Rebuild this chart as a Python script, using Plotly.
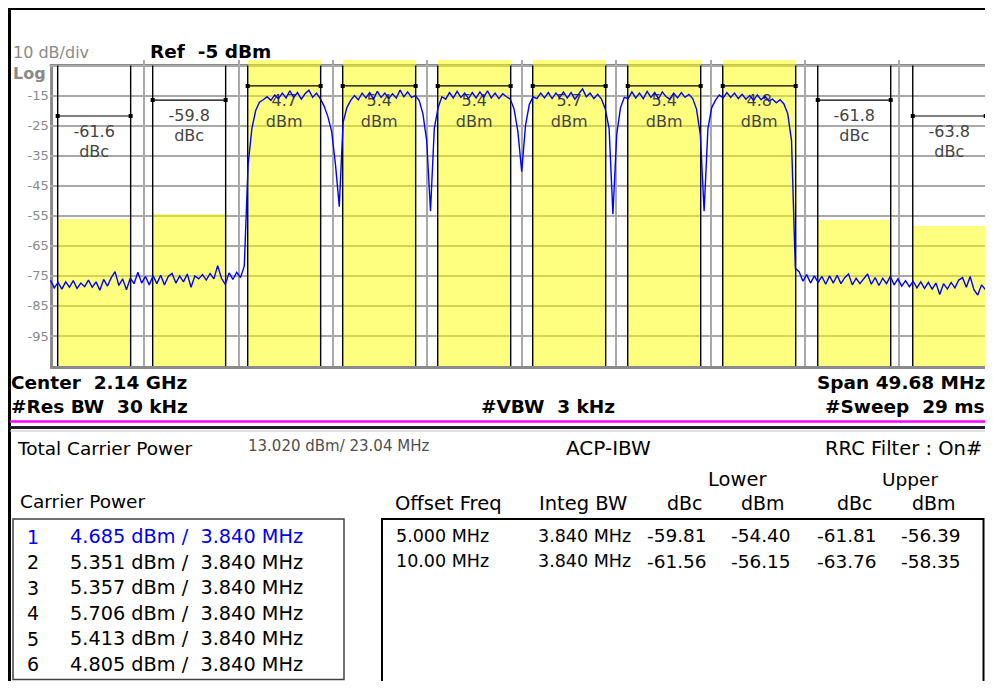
import numpy as np
import plotly.graph_objects as go

# the page has an 8 px body margin, so the figure is laid out in page pixels
OFF = 8
PW, PH = 993, 689
FW, FH = PW - 2 * OFF, PH - 2 * OFF
FONT = "DejaVu Sans, Verdana, sans-serif"
NB = "\u00a0"

# ---- measurement setup ----
center_ghz = 2.14
span_mhz = 49.68
ref_dbm = -5
integ_bw = 3.84

carrier_centers = [-12.5, -7.5, -2.5, 2.5, 7.5, 12.5]
carrier_power = [4.685, 5.351, 5.357, 5.706, 5.413, 4.805]
total_power_dbm = 13.020
total_bw = 23.04

offset_freqs = [5.0, 10.0]
lower_dbc = [-59.81, -61.56]
lower_dbm = [-54.40, -56.15]
upper_dbc = [-61.81, -63.76]
upper_dbm = [-56.39, -58.35]

# height of the measurement bar (dBm) drawn above each channel
carrier_label_level = -11.8
offset_label_level = [-16.5, -21.8]

# ---- sweep trace, 0.2 MHz per point from -24.8 MHz ----
trace_start = -24.8
trace_step = 0.2
trace_dbm = [
    -76.5, -79.0, -77.2, -79.4, -77.0, -78.8, -76.6, -79.2, -77.4, -78.6,
    -76.4, -78.8, -77.0, -79.8, -76.2, -78.4, -75.6, -73.6, -78.2, -76.0,
    -79.6, -75.8, -77.6, -73.8, -77.4, -75.2, -78.0, -75.0, -77.6, -74.8,
    -78.0, -75.2, -74.2, -77.4, -75.0, -77.0, -74.4, -78.8, -75.0, -76.0,
    -74.6, -76.4, -74.2, -76.0, -71.6, -75.8, -77.8, -74.0, -76.2, -73.8,
    -75.6, -71.8, -38.0, -26.0, -20.0, -17.2, -16.4, -15.4, -16.6, -14.8,
    -16.0, -14.2, -15.8, -13.4, -15.6, -14.0, -16.2, -14.4, -13.2, -15.6,
    -14.2, -16.0, -18.5, -22.0, -27.0, -38.0, -52.0, -24.0, -19.0, -16.6,
    -15.0, -16.4, -14.2, -15.8, -14.0, -16.2, -13.6, -15.6, -14.2, -16.0,
    -14.4, -15.8, -13.2, -15.4, -13.8, -15.6, -15.0, -16.6, -21.0, -30.0,
    -53.5, -26.0, -19.0, -15.4, -16.2, -14.0, -15.8, -13.6, -15.6, -14.2,
    -16.0, -14.0, -15.8, -13.8, -15.6, -13.4, -15.8, -14.2, -16.0, -14.4,
    -15.4, -16.2, -19.5, -27.0, -40.3, -25.0, -18.0, -15.4, -16.0, -14.2,
    -15.8, -14.0, -16.0, -14.2, -15.6, -13.8, -15.8, -14.0, -16.2, -14.4,
    -12.8, -15.4, -14.2, -16.0, -14.6, -16.2, -19.5, -26.0, -54.5, -28.0,
    -19.0, -15.6, -16.0, -13.8, -15.8, -14.2, -16.0, -13.6, -15.6, -14.0,
    -16.0, -13.8, -15.4, -16.2, -14.2, -15.8, -14.0, -15.6, -14.6, -16.0,
    -19.5, -28.0, -53.5, -26.0, -19.0, -16.5, -14.8, -15.8, -14.0, -15.6,
    -14.2, -16.0, -14.6, -16.2, -15.0, -16.6, -14.8, -16.4, -15.2, -16.8,
    -16.2, -17.4, -16.4, -17.8, -21.0, -30.0, -72.5, -73.6, -76.8, -74.6,
    -77.4, -75.0, -77.2, -75.2, -77.8, -75.0, -77.4, -74.8, -77.6, -75.6,
    -74.4, -78.0, -75.8, -77.6, -75.8, -74.4, -77.8, -75.6, -78.2, -75.8,
    -77.6, -75.2, -78.0, -76.0, -78.4, -76.6, -78.6, -76.8, -79.0, -77.0,
    -79.2, -77.2, -79.4, -77.4, -81.2, -77.6, -79.4, -77.2, -79.0, -76.4,
    -75.6, -78.8, -75.2, -79.6, -81.4, -78.0, -79.6, -77.2, -78.8,
]
trace_freq = np.round(trace_start + trace_step * np.arange(len(trace_dbm)), 2)

# channels: offsets below/above the outer carriers
lower_centers = [carrier_centers[0] - o for o in offset_freqs]
upper_centers = [carrier_centers[-1] + o for o in offset_freqs]
chan_centers = carrier_centers + lower_centers + upper_centers
chan_tops = carrier_power + lower_dbm + upper_dbm

bottom_db = ref_dbm - 100
half_span = span_mhz / 2
px_per_mhz = 94.4 / (span_mhz / 10)
x_left_px = 49.7          # page x of the left edge of the trace area
y_top_px, y_bot_px = 60.0, 366.0
db_per_px = 100 / (366.0 - 65.5)


def px_x(x):
    return (x - OFF) / FW


def px_y(y):
    return 1 - (y - OFF) / FH


fig = go.Figure()

# yellow integration bands
fig.add_trace(go.Bar(
    x=chan_centers, y=[t - bottom_db for t in chan_tops], base=bottom_db,
    width=integ_bw, marker=dict(color="rgba(255,255,0,0.5)", line_width=0),
    hoverinfo="skip", showlegend=False))

# channel edges
ex, ey = [], []
for c in chan_centers:
    for e in (c - integ_bw / 2, c + integ_bw / 2):
        ex += [e, e, None]
        ey += [bottom_db, ref_dbm, None]
fig.add_trace(go.Scatter(x=ex, y=ey, mode="lines", line=dict(color="black", width=1.4),
                         hoverinfo="skip", showlegend=False))

# measurement bars with values
lab_centers = carrier_centers + lower_centers + upper_centers
lab_levels = [carrier_label_level] * 6 + offset_label_level + offset_label_level
lab_values = [f"{p:.1f}" for p in carrier_power] + [f"{v:.1f}" for v in lower_dbc + upper_dbc]
lab_units = ["dBm"] * 6 + ["dBc"] * 4
mx, my = [], []
for c, lv in zip(lab_centers, lab_levels):
    mx += [c - integ_bw / 2, c + integ_bw / 2, None]
    my += [lv, lv, None]
fig.add_trace(go.Scatter(x=mx, y=my, mode="lines+markers",
                         line=dict(color="black", width=1.2),
                         marker=dict(color="black", size=4, symbol="square"),
                         hoverinfo="skip", showlegend=False))
fig.add_trace(go.Scatter(x=lab_centers, y=[lv - 5.5 for lv in lab_levels], mode="text",
                         text=lab_values, textfont=dict(family=FONT, size=16, color="#444444"),
                         hoverinfo="skip", showlegend=False))
fig.add_trace(go.Scatter(x=lab_centers, y=[lv - 12.2 for lv in lab_levels], mode="text",
                         text=lab_units, textfont=dict(family=FONT, size=16, color="#444444"),
                         hoverinfo="skip", showlegend=False))

# spectrum
fig.add_trace(go.Scatter(x=trace_freq, y=trace_dbm, mode="lines",
                         line=dict(color="#0000ff", width=1.4),
                         hoverinfo="skip", showlegend=False))

grid = "#a9a9a9"
fig.update_xaxes(domain=[px_x(x_left_px), 1.0],
                 range=[-half_span, -half_span + (PW - OFF - x_left_px) / px_per_mhz],
                 tick0=-half_span, dtick=span_mhz / 10, showgrid=True, gridcolor=grid,
                 gridwidth=1.5, showticklabels=False, ticks="", zeroline=False,
                 showline=True, linecolor="#8a8a8a", linewidth=3, automargin=False)
ytv = list(range(ref_dbm, bottom_db, -10))
fig.update_yaxes(domain=[px_y(y_bot_px), px_y(y_top_px)],
                 range=[bottom_db, ref_dbm + (65.5 - y_top_px) * db_per_px],
                 tickvals=ytv, ticktext=[""] + [str(v) for v in ytv[1:]],
                 tickfont=dict(family=FONT, size=13, color="#8a8a8a"),
                 showgrid=True, gridcolor=grid, gridwidth=1.5, ticks="",
                 zeroline=False, showline=False, automargin=False)

shapes = []


def pline(x0, y0, x1, y1, color, width):
    shapes.append(dict(type="line", xref="paper", yref="paper",
                       x0=px_x(x0), y0=px_y(y0), x1=px_x(x1), y1=px_y(y1),
                       line=dict(color=color, width=width), layer="above"))


def prect(x0, y0, x1, y1, color, width):
    shapes.append(dict(type="rect", xref="paper", yref="paper",
                       x0=px_x(x0), y0=px_y(y0), x1=px_x(x1), y1=px_y(y1),
                       line=dict(color=color, width=width), layer="above"))


# plot border (top and left), under the yellow bands
shapes.append(dict(type="line", xref="x domain", yref="y", x0=0, x1=1, y0=ref_dbm, y1=ref_dbm,
                   line=dict(color="#8a8a8a", width=3), layer="below"))
shapes.append(dict(type="line", xref="x domain", yref="y", x0=0.002, x1=0.002,
                   y0=bottom_db, y1=ref_dbm, line=dict(color="#8a8a8a", width=3), layer="below"))

# outer frame
pline(OFF, 8.5, PW, 8.5, "black", 3)
pline(9.5, 8, 9.5, PH, "black", 3)
# separator
pline(10, 421.5, PW, 421.5, "#ff00ff", 2.5)
pline(10, 427.5, PW, 427.5, "#1c1c2c", 3)
pline(10, 431, PW, 431, "#c4c4c4", 1)
# result boxes
prect(13, 519, 344, 679.5, "#404040", 1.5)
prect(382, 519, 983.5, 700, "black", 2)

ann = []


def text(t, x, y, size=19, color="black", anchor="left", bold=False):
    if bold:
        t = f"<b>{t}</b>"
    ann.append(dict(text=t, x=px_x(x), y=px_y(y), xref="paper", yref="paper",
                    xanchor=anchor, yanchor="middle", showarrow=False,
                    font=dict(family=FONT, size=size, color=color)))


text("10 dB/div", 11, 53, 16, "#8a8a8a")
text("Log", 11, 73, 16, "#8a8a8a", bold=True)
text(f"Ref{NB}{NB}{ref_dbm} dBm", 148, 52, 18.5, bold=True)

text(f"Center{NB}{NB}{center_ghz} GHz", 9, 382, 18.5, bold=True)
text(f"#Res BW{NB}{NB}30 kHz", 9, 406, 18.5, bold=True)
text(f"#VBW{NB}{NB}3 kHz", 548, 406, 18.5, anchor="center", bold=True)
text(f"Span {span_mhz} MHz", 987, 382, 18.5, anchor="right", bold=True)
text(f"#Sweep{NB}{NB}29 ms", 987, 406, 18.5, anchor="right", bold=True)

text("Total Carrier Power", 15, 448, 18.5)
text(f"{total_power_dbm:.3f} dBm/ {total_bw:.2f} MHz", 246, 446, 15, "#505050")
text("ACP-IBW", 608, 448, 20, anchor="center")
text("RRC Filter : On#", 984, 448, 19.5, anchor="right")

text("Carrier Power", 18, 502, 18.5)
text("Offset Freq", 448, 503, 19.5, anchor="center")
text("Integ BW", 583, 503, 19.5, anchor="center")
text("Lower", 737, 480, 19.5, anchor="center")
text("Upper", 910, 480, 18.5, anchor="center")
text("dBc", 685, 503, 19, anchor="center")
text("dBm", 763, 503, 19, anchor="center")
text("dBc", 855, 503, 19, anchor="center")
text("dBm", 934, 503, 19, anchor="center")

row_y = [536.5, 562, 587.5, 613, 638.5, 664]
for i, p in enumerate(carrier_power):
    col = "#0000ee" if i == 0 else "black"
    text(str(i + 1), 33, row_y[i], 19, col, anchor="center")
    text(f"{p:.3f} dBm /{NB}{NB}{integ_bw:.3f} MHz", 68, row_y[i], 19.3, col)

off_labels = ["5.000 MHz", "10.00 MHz"]
for i in range(len(offset_freqs)):
    y = row_y[i] - 1
    text(off_labels[i], 394, y, 17.5)
    text(f"{integ_bw:.3f} MHz", 536, y, 17.5)
    text(f"{lower_dbc[i]:.2f}", 709, y, 18.5, anchor="right")
    text(f"{lower_dbm[i]:.2f}", 793, y, 18.5, anchor="right")
    text(f"{upper_dbc[i]:.2f}", 879, y, 18.5, anchor="right")
    text(f"{upper_dbm[i]:.2f}", 963, y, 18.5, anchor="right")

fig.update_layout(width=FW, height=FH, margin=dict(l=0, r=0, t=0, b=0),
                  paper_bgcolor="white", plot_bgcolor="white", template="none",
                  showlegend=False, bargap=0, shapes=shapes, annotations=ann)

fig.write_html("out.html")
